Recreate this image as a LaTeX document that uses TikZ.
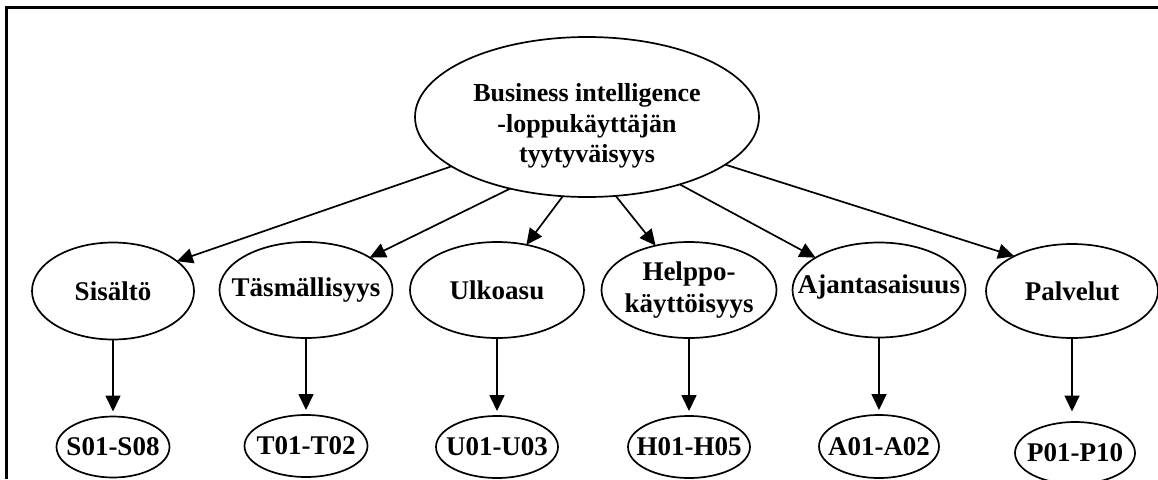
\documentclass[tikz,border=0pt]{standalone}
\usepackage{fontspec}
\setmainfont{Liberation Serif}
\usetikzlibrary{shapes.geometric,arrows.meta}
\begin{document}
\begin{tikzpicture}[x=1pt,y=-1pt,
  ell/.style={draw, ellipse, line width=1.7pt, inner sep=0pt, outer sep=0pt},
  every label/.style={font=\bfseries\fontsize{27}{31}\selectfont, align=center, inner sep=0pt},
  toplabel/.style={font=\bfseries\fontsize{26}{30.5}\selectfont},
  arr/.style={line width=1.7pt, -{Triangle[length=16pt,width=15pt]}},
  frameline/.style={line width=3pt}]
\useasboundingbox (0,0) rectangle (1158,479);

% partial frame: left and top edges
\draw[frameline] (6.5,479) -- (6.5,7.3) -- (1158,7.3);

% root concept
\node[ell, minimum width=344pt, minimum height=160pt,
  label={[name=topt, toplabel, yshift=-9pt]center:Business intelligence\\-loppukäyttäjän\\tyytyväisyys}]
  (top) at (587,117) {};

% dimensions
\node[ell, minimum width=162pt, minimum height=97pt, label={[name=sist]center:Sisältö}] (sis) at (113,291) {};
\node[ell, minimum width=173pt, minimum height=96pt, label={[name=tast]center:Täsmällisyys}] (tas) at (306,290) {};
\node[ell, minimum width=174pt, minimum height=96pt, label={[name=ulkt]center:Ulkoasu}] (ulk) at (497,290) {};
\node[ell, minimum width=175pt, minimum height=96pt, label={[name=helt]center:Helppo-\\[1pt]käyttöisyys}] (hel) at (689,290) {};
\node[ell, minimum width=173pt, minimum height=95pt, label={[name=ajat, yshift=3pt]center:Ajantasaisuus}] (aja) at (879,290) {};
\node[ell, minimum width=172pt, minimum height=94pt, label={[name=palt]center:Palvelut}] (pal) at (1072,291) {};

% item groups
\node[ell, minimum width=113pt, minimum height=61pt, label={[name=s1t]center:S01-S08}] (s1) at (113,447) {};
\node[ell, minimum width=123pt, minimum height=62pt, label={[name=t1t]center:T01-T02}] (t1) at (306,446) {};
\node[ell, minimum width=122pt, minimum height=62pt, label={[name=u1t]center:U01-U03}] (u1) at (497,447) {};
\node[ell, minimum width=122pt, minimum height=62pt, label={[name=h1t]center:H01-H05}] (h1) at (689,447) {};
\node[ell, minimum width=120pt, minimum height=63pt, label={[name=a1t]center:A01-A02}] (a1) at (879,446.5) {};
\node[ell, minimum width=120pt, minimum height=62pt, label={[name=p1t]center:P01-P10}] (p1) at (1075,453) {};

% root to dimensions
\draw[arr] (top.200.8) -- (sis.25.6);
\draw[arr] (top.223) -- (tas.27.3);
\draw[arr] (top.253.3) -- (ulk.57.4);
\draw[arr] (top.290.6) -- (hel.127.5);
\draw[arr] (top.324.6) -- (aja.153.4);
\draw[arr] (top.341) -- (pal.149.4);

% dimensions to item groups
\draw[arr, shorten >=5pt] (sis.south) -- (sis.south |- s1.north);
\draw[arr, shorten >=5pt] (tas.south) -- (tas.south |- t1.north);
\draw[arr, shorten >=5pt] (ulk.south) -- (ulk.south |- u1.north);
\draw[arr, shorten >=5pt] (hel.south) -- (hel.south |- h1.north);
\draw[arr, shorten >=5pt] (aja.south) -- (aja.south |- a1.north);
\draw[arr, shorten >=5pt] (pal.south) -- (pal.south |- s1.north);
\end{tikzpicture}
\end{document}
